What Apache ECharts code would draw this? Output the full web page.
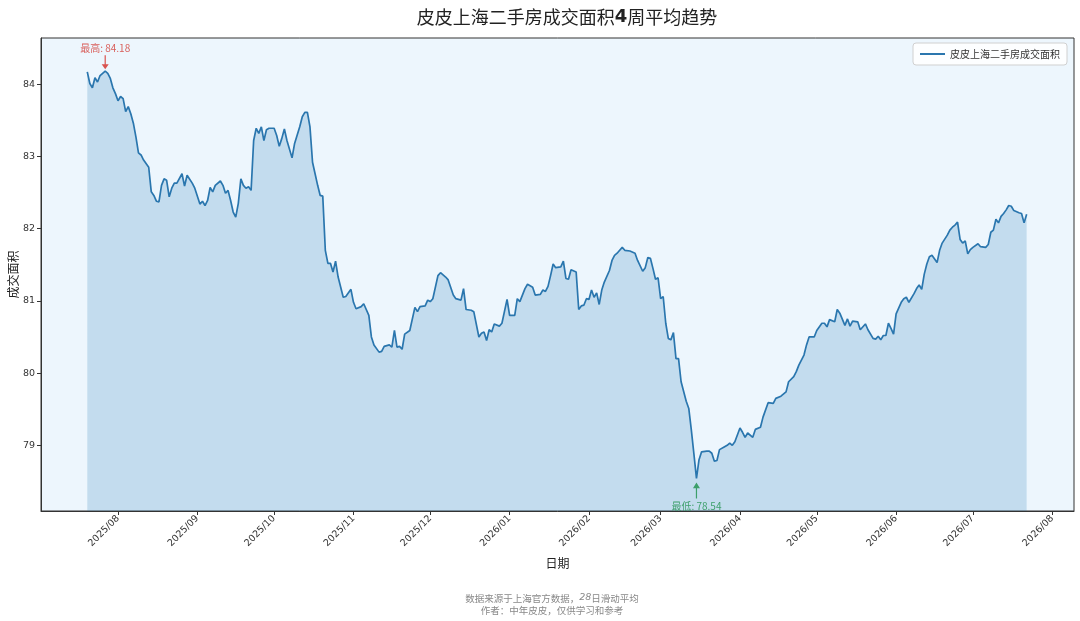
<!DOCTYPE html>
<html>
<head>
<meta charset="utf-8">
<script src="https://cdn.jsdelivr.net/npm/echarts@6/dist/echarts.min.js"></script>
<style>
html,body{margin:0;padding:0;background:#fff;}
#chart{width:1080px;height:621px;}
</style>
</head>
<body>
<div id="chart"></div>
<script>
// Day offsets from 2025-08-01
const dayOffsets = [-12,-11,-10,-9,-8,-7,-5,-4,-3,-2,-1,0,1,2,3,4,5,6,7,8,9,10,12,13,14,15,16,17,18,19,20,21,22,23,25,26,27,29,30,32,33,34,35,36,37,38,40,41,42,43,44,45,46,47,48,49,50,51,52,53,54,55,56,57,58,59,61,62,63,64,65,66,68,69,71,72,73,74,75,76,77,78,79,80,81,82,83,84,85,86,88,89,91,92,93,95,96,98,99,100,102,103,104,106,107,108,109,110,111,112,114,116,117,118,120,121,122,123,125,126,128,129,131,132,134,135,136,138,139,141,142,143,144,145,146,147,149,150,152,153,155,156,157,159,160,162,163,165,166,167,168,169,170,171,173,174,175,176,177,179,180,181,182,183,184,185,186,187,188,189,190,192,193,194,195,196,197,198,200,202,203,205,206,207,208,209,210,211,212,213,214,215,216,217,218,219,220,222,223,224,225,226,227,228,230,231,232,233,234,235,237,238,239,240,241,243,244,245,246,248,249,251,252,254,256,257,259,261,262,264,265,266,268,269,270,272,273,275,276,277,278,280,281,282,284,285,286,287,289,290,292,293,295,296,297,298,299,300,301,302,303,304,306,307,308,309,311,312,313,314,315,316,317,318,320,321,322,324,325,326,327,328,329,330,331,332,333,334,336,337,339,340,341,342,343,344,345,346,347,348,349,350,352,353,354,355];
const areaValues = [84.17,84.01,83.95,84.09,84.03,84.12,84.18,84.15,84.08,83.95,83.87,83.77,83.83,83.80,83.62,83.69,83.59,83.46,83.27,83.05,83.02,82.95,82.85,82.51,82.46,82.38,82.37,82.60,82.69,82.67,82.44,82.56,82.63,82.63,82.76,82.59,82.74,82.63,82.56,82.34,82.38,82.32,82.39,82.57,82.51,82.60,82.66,82.60,82.49,82.53,82.39,82.23,82.16,82.35,82.69,82.60,82.56,82.58,82.53,83.22,83.39,83.32,83.41,83.22,83.37,83.39,83.39,83.29,83.14,83.25,83.38,83.22,82.98,83.18,83.41,83.55,83.61,83.61,83.41,82.92,82.76,82.60,82.46,82.45,81.70,81.52,81.52,81.40,81.55,81.33,81.05,81.06,81.16,80.98,80.89,80.92,80.96,80.80,80.50,80.39,80.29,80.30,80.37,80.39,80.36,80.59,80.36,80.37,80.33,80.54,80.59,80.91,80.85,80.92,80.93,81.01,80.99,81.03,81.35,81.39,81.33,81.29,81.08,81.03,81.01,81.17,80.88,80.87,80.85,80.50,80.55,80.57,80.45,80.60,80.57,80.68,80.65,80.69,81.02,80.80,80.80,81.03,80.99,81.17,81.23,81.19,81.08,81.09,81.15,81.13,81.20,81.35,81.51,81.46,81.47,81.55,81.31,81.30,81.43,81.40,80.88,80.93,80.94,81.03,81.02,81.15,81.05,81.11,80.95,81.15,81.26,81.42,81.56,81.63,81.66,81.70,81.74,81.70,81.69,81.66,81.56,81.41,81.46,81.60,81.59,81.45,81.30,81.32,81.03,81.06,80.69,80.48,80.46,80.56,80.20,80.20,79.88,79.61,79.51,79.21,78.88,78.54,78.80,78.91,78.92,78.92,78.89,78.78,78.79,78.94,78.98,79.00,79.03,79.00,79.05,79.24,79.18,79.11,79.17,79.11,79.22,79.25,79.39,79.59,79.58,79.65,79.68,79.74,79.88,79.95,80.02,80.11,80.25,80.39,80.50,80.50,80.59,80.69,80.69,80.64,80.74,80.71,80.88,80.83,80.66,80.75,80.65,80.72,80.71,80.60,80.68,80.60,80.48,80.47,80.51,80.46,80.52,80.52,80.69,80.62,80.54,80.82,80.98,81.03,81.05,80.98,81.10,81.17,81.22,81.16,81.37,81.51,81.61,81.63,81.53,81.70,81.80,81.91,81.98,82.02,82.05,82.09,81.85,81.80,81.83,81.65,81.71,81.74,81.79,81.75,81.74,81.78,81.95,81.98,82.13,82.08,82.17,82.21,82.26,82.32,82.31,82.25,82.22,82.21,82.08,82.20];
const xTickLabels = ['2025/08','2025/09','2025/10','2025/11','2025/12','2026/01','2026/02','2026/03','2026/04','2026/05','2026/06','2026/07','2026/08'];
const yTickValues = [79, 80, 81, 82, 83, 84];
const seriesName = '皮皮上海二手房成交面积';

function dateFromOffset(d) { return new Date(2025, 7, 1 + d).getTime(); }
const seriesData = dayOffsets.map((d, i) => [dateFromOffset(d), areaValues[i]]);
const tickTimes = xTickLabels.map(s => { const p = s.split('/'); return new Date(+p[0], +p[1] - 1, 1).getTime(); });
const tickLabelMap = {};
tickTimes.forEach((t, i) => { tickLabelMap[t] = xTickLabels[i]; });

let maxI = 0, minI = 0;
areaValues.forEach((v, i) => { if (v > areaValues[maxI]) maxI = i; if (v < areaValues[minI]) minI = i; });

const FONT = 'DejaVu Sans, Noto Sans CJK SC, sans-serif';
const CJK = 'Noto Sans CJK SC, DejaVu Sans, sans-serif';
const arrowDown = 'path://M3.4,0 L4.6,0 L4.6,9 L7.5,9 L4,14 L0.5,9 L3.4,9 Z';
const arrowUp = 'path://M3.4,14 L4.6,14 L4.6,5 L7.5,5 L4,0 L0.5,5 L3.4,5 Z';

const chart = echarts.init(document.getElementById('chart'), null, { renderer: 'canvas' });
chart.setOption({
  backgroundColor: '#ffffff',
  animation: false,
  title: [
    {
      text: '{a|皮皮上海二手房成交面积}{b|4}{a|周平均趋势}',
      left: 562, top: 3, textAlign: 'center',
      textStyle: {
        fontWeight: 'normal',
        rich: {
          a: { fontSize: 18, color: '#222', fontWeight: 'normal', fontFamily: CJK },
          b: { fontSize: 18, color: '#222', fontWeight: 'bold', fontFamily: 'DejaVu Sans, sans-serif' }
        }
      }
    },
    {
      text: '{a|数据来源于上海官方数据，}{i|28}{a|日滑动平均}\n{a|作者：中年皮皮，仅供学习和参考}',
      left: 547, top: 587, textAlign: 'center',
      textStyle: {
        fontWeight: 'normal',
        lineHeight: 12,
        rich: {
          a: { fontSize: 9.5, color: '#888', fontWeight: 'normal', lineHeight: 12, fontFamily: CJK },
          i: { fontSize: 9.5, color: '#888', fontWeight: 'normal', lineHeight: 12, fontStyle: 'italic', fontFamily: 'DejaVu Sans, sans-serif' }
        }
      }
    }
  ],
  legend: {
    data: [seriesName],
    right: 13, top: 43,
    icon: 'rect', itemWidth: 25, itemHeight: 2,
    padding: [6, 7], itemGap: 5,
    borderColor: '#d0d0d0', borderWidth: 1, borderRadius: 3,
    backgroundColor: 'rgba(255,255,255,0.85)',
    textStyle: { fontSize: 10, color: '#333', fontFamily: CJK }
  },
  grid: {
    left: 41, right: 6, top: 38, bottom: 110,
    containLabel: false, outerBoundsMode: 'none',
    show: true, backgroundColor: '#edf6fd', borderColor: '#333', borderWidth: 1
  },
  xAxis: {
    type: 'value',
    min: new Date(2025, 6, 1, 22).getTime(),
    max: new Date(2026, 7, 9, 12).getTime(),
    name: '日期', nameLocation: 'middle', nameGap: 46,
    nameTextStyle: { fontSize: 12, color: '#222', fontFamily: CJK },
    axisLine: { show: true, lineStyle: { color: '#333', width: 1 } },
    axisTick: { show: true, length: 4, lineStyle: { color: '#333' }, customValues: tickTimes },
    axisLabel: {
      customValues: tickTimes, rotate: 45, fontSize: 9.5, color: '#333', fontFamily: FONT, margin: 6,
      formatter: v => tickLabelMap[v] || ''
    },
    splitLine: { show: false }
  },
  yAxis: {
    type: 'value',
    min: 78.09, max: 84.64,
    name: '成交面积', nameLocation: 'middle', nameGap: 22, nameMoveOverlap: false,
    nameTextStyle: { fontSize: 12, color: '#222', fontFamily: CJK },
    axisLine: { show: true, lineStyle: { color: '#333', width: 1 } },
    axisTick: { show: true, length: 4, lineStyle: { color: '#333' }, customValues: yTickValues },
    axisLabel: { customValues: yTickValues, fontSize: 9.5, color: '#333', fontFamily: FONT, margin: 6 },
    splitLine: { show: false }
  },
  series: [{
    name: seriesName,
    type: 'line',
    data: seriesData,
    showSymbol: false,
    symbol: 'none',
    lineStyle: { color: '#2a76ae', width: 1.7 },
    itemStyle: { color: '#2a76ae' },
    areaStyle: { color: '#1f77b4', opacity: 0.2, origin: 'start' },
    markPoint: {
      silent: true,
      data: [
        {
          coord: seriesData[maxI],
          symbol: arrowDown, symbolSize: [7, 14], symbolOffset: [0, -9],
          itemStyle: { color: '#d9534f' },
          label: {
            show: true, position: 'top', distance: 2,
            formatter: '最高: ' + areaValues[maxI].toFixed(2),
            color: '#d9605c', fontSize: 10, fontFamily: CJK
          }
        },
        {
          coord: seriesData[minI],
          symbol: arrowUp, symbolSize: [7, 16], symbolOffset: [0, 12],
          itemStyle: { color: '#3c9f6a' },
          label: {
            show: true, position: 'bottom', distance: 3,
            formatter: '最低: ' + areaValues[minI].toFixed(2),
            color: '#3fa06d', fontSize: 10, fontFamily: CJK
          }
        }
      ]
    }
  }]
});
</script>
</body>
</html>
